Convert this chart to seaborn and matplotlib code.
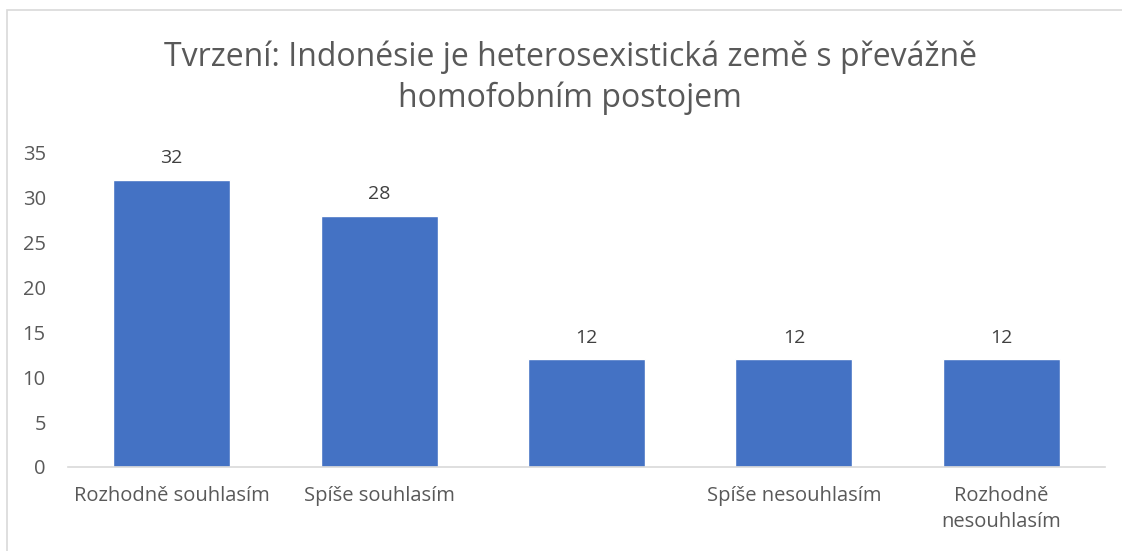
import matplotlib
matplotlib.use("Agg")
import matplotlib.pyplot as plt
import seaborn as sns
import pandas as pd
from matplotlib.patches import Rectangle

# data
categories = ["Rozhodně souhlasím", "Spíše souhlasím", "", "Spíše nesouhlasím", "Rozhodně\nnesouhlasím"]
values = [32, 28, 12, 12, 12]
yticks = [0, 5, 10, 15, 20, 25, 30, 35]
title = "Tvrzení: Indonésie je heterosexistická země s převážně\nhomofobním postojem"

df = pd.DataFrame({"kategorie": categories, "pocet": values})

sns.set_style("white")
plt.rcParams["font.family"] = ["Open Sans", "DejaVu Sans"]

fig = plt.figure(figsize=(11.22, 5.51), dpi=100)
ax = fig.add_axes([68 / 1122, 1 - 467 / 551, (1105 - 68) / 1122, (467 - 153) / 551])

sns.barplot(data=df, x="kategorie", y="pocet", color="#4472C4", width=0.565,
            saturation=1, ax=ax)

for i, v in enumerate(values):
    ax.text(i, v + 1.4, str(v), ha="center", va="bottom", fontsize=14, color="#404040")

ax.set_ylim(0, 35)
ax.set_yticks(yticks)
ax.set_xlim(-0.5, len(categories) - 0.5)
ax.set_xlabel("")
ax.set_ylabel("")
ax.tick_params(axis="both", length=0, labelsize=14.5, colors="#595959")
ax.tick_params(axis="y", pad=16)
ax.tick_params(axis="x", pad=14)
for lbl in ax.get_xticklabels():
    lbl.set_linespacing(1.35)
for s in ["top", "right", "left"]:
    ax.spines[s].set_visible(False)
ax.spines["bottom"].set_color("#d9d9d9")
ax.spines["bottom"].set_linewidth(1.2)

fig.text(570 / 1122, 1 - 78 / 551, title, ha="center", va="center", fontsize=23,
         color="#595959", linespacing=1.3)

# chart frame (cropped at right and bottom)
fig.patches.append(Rectangle((7 / 1122, -0.1), 1.2, 1.1 - 10 / 551, transform=fig.transFigure,
                             fill=False, edgecolor="#d9d9d9", linewidth=1.2))

fig.savefig("out.png", dpi=100)
